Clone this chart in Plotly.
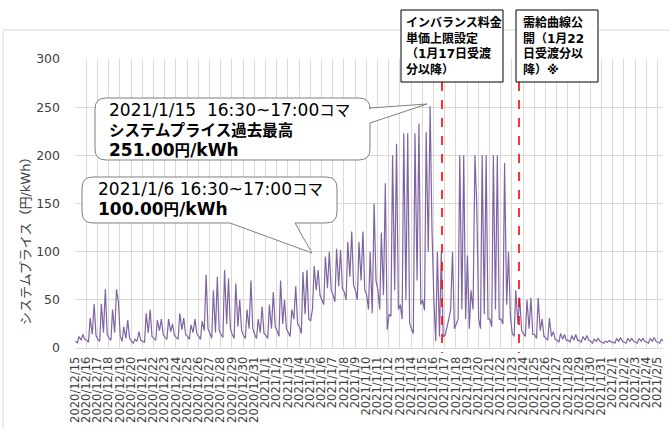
import plotly.graph_objects as go

# ---------------- data ----------------
dates = [
    "2020/12/15", "2020/12/16", "2020/12/17", "2020/12/18", "2020/12/19", "2020/12/20",
    "2020/12/21", "2020/12/22", "2020/12/23", "2020/12/24", "2020/12/25", "2020/12/26",
    "2020/12/27", "2020/12/28", "2020/12/29", "2020/12/30", "2020/12/31",
    "2021/1/1", "2021/1/2", "2021/1/3", "2021/1/4", "2021/1/5", "2021/1/6", "2021/1/7",
    "2021/1/8", "2021/1/9", "2021/1/10", "2021/1/11", "2021/1/12", "2021/1/13",
    "2021/1/14", "2021/1/15", "2021/1/16", "2021/1/17", "2021/1/18", "2021/1/19",
    "2021/1/20", "2021/1/21", "2021/1/22", "2021/1/23", "2021/1/24", "2021/1/25",
    "2021/1/26", "2021/1/27", "2021/1/28", "2021/1/29", "2021/1/30", "2021/1/31",
    "2021/2/1", "2021/2/2", "2021/2/3", "2021/2/4", "2021/2/5",
]

# hour of day of each sampled slot
slot_hours = [1, 5, 8.5, 13, 17, 21]

# system price (円/kWh) per day at each slot
night_1h = [7, 8, 9, 10, 12, 7, 7, 10, 11, 11, 12, 12, 15, 14, 14, 13, 14,
            13, 18, 16, 22, 28, 50, 55, 58, 60, 55, 60, 35, 45, 20, 50, 50, 13,
            25, 96, 30, 30, 30, 15, 15, 14, 10, 8, 8, 8, 7, 6, 6, 6, 6, 6, 6]
dawn_5h = [5, 6, 7, 8, 7, 5, 6, 8, 9, 9, 9, 9, 10, 11, 10, 10, 10,
           10, 12, 12, 15, 41, 45, 48, 50, 50, 40, 40, 33, 30, 15, 39, 7, 20,
           30, 20, 20, 22, 25, 12, 12, 10, 8, 6, 6, 6, 5, 5, 5, 5, 5, 5, 5]
morning_9h = [12, 31, 46, 40, 22, 9, 36, 29, 30, 36, 24, 28, 60, 81, 67, 40, 30,
              45, 70, 40, 79, 85, 95, 103, 110, 110, 100, 120, 200, 223, 223, 224, 100, 29,
              200, 60, 200, 200, 192, 60, 50, 52, 31, 15, 13, 12, 9, 7, 10, 10, 10, 10, 9]
midday_13h = [8, 14, 16, 16, 10, 7, 16, 18, 17, 19, 16, 18, 16, 25, 22, 20, 16,
              20, 25, 30, 35, 60, 62, 64, 74, 70, 36, 55, 60, 50, 70, 100, 12, 40,
              40, 40, 35, 40, 45, 25, 20, 18, 12, 9, 8, 8, 7, 6, 7, 7, 7, 7, 7]
evening_17h = [14, 46, 61, 61, 29, 17, 40, 30, 25, 31, 30, 76, 74, 72, 50, 70, 43,
               58, 50, 64, 81, 81, 100, 102, 121, 121, 150, 171, 212, 223, 233, 251, 100, 100,
               200, 200, 200, 200, 100, 52, 52, 30, 17, 14, 14, 13, 10, 8, 11, 10, 10, 11, 10]
late_21h = [9, 13, 14, 48, 10, 8, 12, 14, 13, 14, 15, 20, 18, 20, 18, 20, 15,
            22, 20, 25, 30, 55, 60, 62, 65, 60, 70, 19, 40, 26, 45, 122, 12, 20,
            30, 147, 30, 30, 33, 18, 14, 12, 9, 8, 8, 8, 7, 6, 7, 7, 7, 7, 7]

y_ticks = [0, 50, 100, 150, 200, 250, 300]

# ---------------- build series ----------------
slot_cols = [night_1h, dawn_5h, morning_9h, midday_13h, evening_17h, late_21h]
xs, ys = [], []
for d in range(len(dates)):
    for h, col in zip(slot_hours, slot_cols):
        xs.append(d + h / 24.0)
        ys.append(col[d])

# ---------------- layout helpers (pixel -> paper) ----------------
W, H = 670, 428
PL, PR, PT, PB = 75, 663, 59, 348
X_RANGE = [0, (PR - PL) / 11.2]


def px(x):
    return (x - PL) / (PR - PL)


def py(y):
    return (PB - y) / (PB - PT)


def pt(x, y):
    return f"{px(x):.5f},{py(y):.5f}"


def callout_path(x0, y0, x1, y1, r, tail_side, tail):
    p = [f"M {pt(x0 + r, y0)}", f"L {pt(x1 - r, y0)}",
         f"Q {pt(x1, y0)} {pt(x1, y0 + r)}"]
    if tail_side == "right":
        (ta, tb), tip, (tc, td) = tail
        p += [f"L {pt(ta, tb)}", f"L {pt(*tip)}", f"L {pt(tc, td)}"]
    p += [f"L {pt(x1, y1 - r)}", f"Q {pt(x1, y1)} {pt(x1 - r, y1)}"]
    if tail_side == "bottom":
        (ta, tb), tip, (tc, td) = tail
        p += [f"L {pt(ta, tb)}", f"L {pt(*tip)}", f"L {pt(tc, td)}"]
    p += [f"L {pt(x0 + r, y1)}", f"Q {pt(x0, y1)} {pt(x0, y1 - r)}",
          f"L {pt(x0, y0 + r)}", f"Q {pt(x0, y0)} {pt(x0 + r, y0)}", "Z"]
    return " ".join(p)


FONT = "DejaVu Sans, Noto Sans CJK JP, sans-serif"


def lat(s, size=17):
    return f'<span style="font-size:{size}px">{s}</span>'


fig = go.Figure()
fig.add_trace(go.Scatter(
    x=xs, y=ys, mode="lines",
    line=dict(color="#8064A2", width=1.2),
    hoverinfo="skip", showlegend=False,
))

shapes = []
# faint outer chart border
shapes.append(dict(type="rect", xref="paper", yref="paper", layer="below",
                   x0=px(3), x1=px(720), y0=py(480), y1=py(30),
                   line=dict(color="#d9d9d9", width=1), fillcolor="rgba(0,0,0,0)"))
# red dashed event lines
for xpix in (442, 519):
    shapes.append(dict(type="line", xref="paper", yref="paper",
                       x0=px(xpix), x1=px(xpix), y0=py(82), y1=py(353),
                       line=dict(color="#FF0000", width=1.6, dash="dash")))
# callout 1
shapes.append(dict(type="path", xref="paper", yref="paper",
                   path=callout_path(95, 98, 370, 160, 11, "right",
                                     ((370, 108), (427, 104), (370, 123))),
                   line=dict(color="#7F7F7F", width=1), fillcolor="white"))
# callout 2
shapes.append(dict(type="path", xref="paper", yref="paper",
                   path=callout_path(82, 177, 337, 223, 11, "bottom",
                                     ((295, 223), (312, 253), (230, 223))),
                   line=dict(color="#7F7F7F", width=1), fillcolor="white"))
# top boxes
shapes.append(dict(type="rect", xref="paper", yref="paper",
                   x0=px(401), x1=px(503), y0=py(82), y1=py(10),
                   line=dict(color="#000000", width=1), fillcolor="white"))
shapes.append(dict(type="rect", xref="paper", yref="paper",
                   x0=px(516), x1=px(598), y0=py(82), y1=py(10),
                   line=dict(color="#000000", width=1), fillcolor="white"))

annotations = [
    dict(xref="paper", yref="paper", x=px(107), y=py(130), xanchor="left", yanchor="middle",
         align="left", showarrow=False, font=dict(family=FONT, size=15.5, color="#000000"),
         text=lat("2021/1/15\u00a0\u00a016:30~17:00") + "コマ<br><b>システムプライス過去最高</b><br><b>"
              + lat("251.00") + "円" + lat("/kWh") + "</b>"),
    dict(xref="paper", yref="paper", x=px(96), y=py(199), xanchor="left", yanchor="middle",
         align="left", showarrow=False, font=dict(family=FONT, size=15.5, color="#000000"),
         text=lat("2021/1/6 16:30~17:00") + "コマ<br><b>" + lat("100.00") + "円" + lat("/kWh") + "</b>"),
    dict(xref="paper", yref="paper", x=px(404), y=py(46), xanchor="left", yanchor="middle",
         align="left", showarrow=False, font=dict(family=FONT, size=12, color="#000000"),
         text="<b>インバランス料金<br>単価上限設定<br>（1月17日受渡<br>分以降）</b>"),
    dict(xref="paper", yref="paper", x=px(521), y=py(46), xanchor="left", yanchor="middle",
         align="left", showarrow=False, font=dict(family=FONT, size=12, color="#000000"),
         text="<b>需給曲線公<br>開（1月22<br>日受渡分以<br>降）※</b>"),
    dict(xref="paper", yref="paper", x=px(26), y=py(238), xanchor="center", yanchor="middle",
         textangle=-90, showarrow=False, font=dict(family=FONT, size=13, color="#404040"),
         text="システムプライス（円/kWh）"),
]

fig.update_layout(
    width=W, height=H,
    margin=dict(l=PL, r=W - PR, t=PT, b=H - PB, autoexpand=False),
    paper_bgcolor="white", plot_bgcolor="white",
    font=dict(family=FONT, color="#404040"),
    shapes=shapes, annotations=annotations,
    showlegend=False,
    xaxis=dict(
        range=X_RANGE, tickmode="array",
        tickvals=list(range(len(dates))), ticktext=dates,
        tickangle=-90, tickfont=dict(size=11.5, color="#404040"),
        showgrid=True, gridcolor="#d9d9d9", gridwidth=1,
        showline=True, linecolor="#d9d9d9", linewidth=1,
        ticks="", zeroline=False, ticklabelstandoff=3, automargin=False,
    ),
    yaxis=dict(
        range=[0, 300], tickmode="array", tickvals=y_ticks,
        tickfont=dict(size=12.5, color="#404040"),
        showgrid=True, gridcolor="#d9d9d9", gridwidth=1,
        zeroline=False, showline=False, ticks="", ticklabelstandoff=14, automargin=False,
    ),
)

fig.write_html(
    "out.html",
    config={"displayModeBar": False, "staticPlot": True},
    post_script="document.body.style.margin='0';document.body.style.overflow='hidden';",
)
